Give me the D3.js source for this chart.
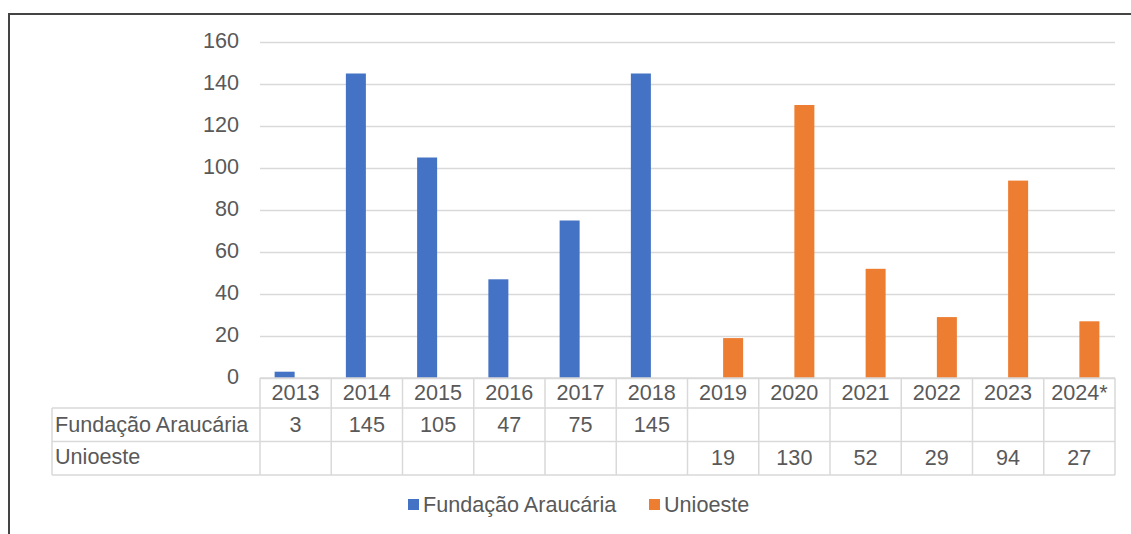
<!DOCTYPE html>
<html>
<head>
<meta charset="utf-8">
<script src="https://cdn.jsdelivr.net/npm/d3@7"></script>
<style>
  body { margin: 0; background: #fff; }
  svg { display: block; font-family: "Liberation Sans", Arial, sans-serif; }
</style>
</head>
<body>
<div id="chart"></div>
<script>
// data
var years = ['2013', '2014', '2015', '2016', '2017', '2018', '2019', '2020', '2021', '2022', '2023', '2024*'];
var fundacao = [3, 145, 105, 47, 75, 145, null, null, null, null, null, null];
var unioeste = [null, null, null, null, null, null, 19, 130, 52, 29, 94, 27];
var seriesNames = ['Fundação Araucária', 'Unioeste'];
var seriesColors = ['#4472C4', '#ED7D31'];
var yTicks = [0, 20, 40, 60, 80, 100, 120, 140, 160];

var W = 1131, H = 534;
var plot = {left: 260, right: 1115, top: 42, bottom: 378};
var rowH = [378, 408, 441.5, 475];
var tableLeft = 52;
var textColor = '#595959', gridColor = '#d9d9d9';
var fs = 21.6;

var svg = d3.select('#chart').append('svg')
  .attr('width', W)
  .attr('height', H);

// page frame (top and left edges only)
svg.append('path')
  .attr('d', 'M9,' + H + 'V14H' + W)
  .attr('fill', 'none')
  .attr('stroke', '#444')
  .attr('stroke-width', 2);

var x = d3.scaleBand().domain(years).range([plot.left, plot.right]).padding(0);
var x1 = d3.scaleBand().domain(seriesNames).range([-21, 21]);
var y = d3.scaleLinear().domain([0, 160]).range([plot.bottom, plot.top]);

// gridlines + y labels
var yAxis = svg.append('g')
  .attr('transform', 'translate(' + plot.left + ',0)')
  .call(d3.axisLeft(y).tickValues(yTicks).tickSize(-(plot.right - plot.left)).tickPadding(21));
yAxis.select('.domain').remove();
yAxis.selectAll('.tick line').attr('stroke', gridColor).attr('stroke-width', 1.5);
yAxis.selectAll('.tick text')
  .attr('fill', textColor)
  .attr('font-size', fs)
  .attr('font-family', '"Liberation Sans", Arial, sans-serif')
  .attr('dy', '0.24em');

// bars
var allSeries = [fundacao, unioeste];
allSeries.forEach(function(vals, s) {
  var data = years.map(function(yr, i) { return {year: yr, v: vals[i]}; })
    .filter(function(d) { return d.v != null; });
  svg.append('g').selectAll('rect')
    .data(data)
    .enter().append('rect')
    .attr('x', function(d) { return x(d.year) + x.bandwidth() / 2 + x1(seriesNames[s]); })
    .attr('width', 20)
    .attr('y', function(d) { return y(d.v); })
    .attr('height', function(d) { return y(0) - y(d.v); })
    .attr('fill', seriesColors[s]);
});

// data table
var table = svg.append('g').attr('stroke', gridColor).attr('stroke-width', 1.5);
table.append('line').attr('x1', plot.left).attr('x2', plot.right).attr('y1', rowH[0]).attr('y2', rowH[0]);
rowH.slice(1).forEach(function(r) {
  table.append('line').attr('x1', tableLeft).attr('x2', plot.right).attr('y1', r).attr('y2', r);
});
table.append('line').attr('x1', tableLeft).attr('x2', tableLeft).attr('y1', rowH[1]).attr('y2', rowH[3]);
years.forEach(function(yr) {
  table.append('line').attr('x1', x(yr)).attr('x2', x(yr)).attr('y1', rowH[0]).attr('y2', rowH[3]);
});
table.append('line').attr('x1', plot.right).attr('x2', plot.right).attr('y1', rowH[0]).attr('y2', rowH[3]);

var txt = svg.append('g').attr('fill', textColor).attr('font-size', fs);
txt.selectAll('.yr')
  .data(years)
  .enter().append('text')
  .attr('x', function(d) { return x(d) + x.bandwidth() / 2; })
  .attr('y', 400)
  .attr('text-anchor', 'middle')
  .text(function(d) { return d; });

var rowBase = [432, 465];
allSeries.forEach(function(vals, s) {
  txt.append('text')
    .attr('x', 55)
    .attr('y', rowBase[s] - s)
    .text(seriesNames[s]);
  vals.forEach(function(v, i) {
    if (v == null) return;
    txt.append('text')
      .attr('x', x(years[i]) + x.bandwidth() / 2)
      .attr('y', rowBase[s])
      .attr('text-anchor', 'middle')
      .text(v);
  });
});

// legend
var legendX = [408, 649];
var legend = svg.append('g').attr('font-size', fs).attr('fill', textColor);
seriesNames.forEach(function(name, s) {
  legend.append('rect')
    .attr('x', legendX[s]).attr('y', 499)
    .attr('width', 11).attr('height', 11)
    .attr('fill', seriesColors[s]);
  legend.append('text')
    .attr('x', legendX[s] + 15)
    .attr('y', 512)
    .text(name);
});
</script>
</body>
</html>
